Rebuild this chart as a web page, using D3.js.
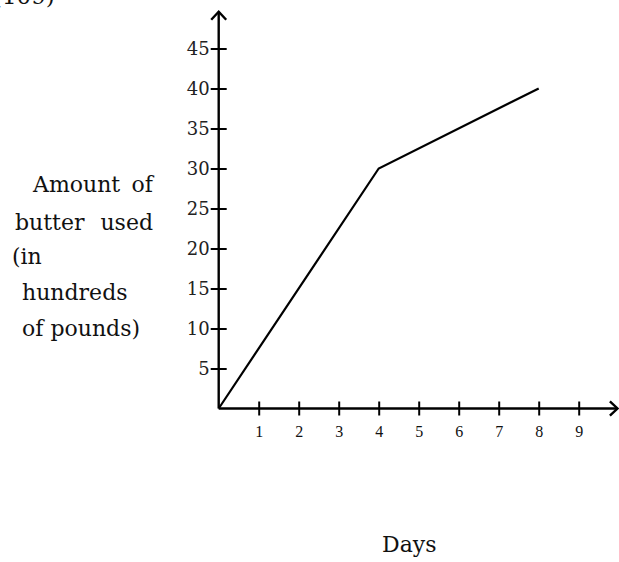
<!DOCTYPE html>
<html><head><meta charset="utf-8">
<script src="https://cdn.jsdelivr.net/npm/d3@7"></script>
<style>body{margin:0;background:#fff}svg{display:block}</style>
</head><body>
<svg id="c" width="619" height="562"></svg>
<script>
const days = [0, 4, 8];
const butter = [0, 30, 40];
const xTicks = [1,2,3,4,5,6,7,8,9];
const yTicks = [5,10,15,20,25,30,35,40,45];
const yLabelLines = ["Amount of", "butter used", "(in", "hundreds", "of pounds)"];
const xLabel = "Days";
const topFragment = "(109)";

const svg = d3.select("#c");
const x = d3.scaleLinear().domain([0,10]).range([218.7, 618.7]);
const y = d3.scaleLinear().domain([0,50]).range([408.5, 8.5]);
const serif = "'Liberation Serif',serif";
const wide = "'DejaVu Serif',serif";

// top clipped fragment (cut off at the page edge in the original)
svg.append("text").attr("x", -7).attr("y", 4).attr("font-family", wide)
  .attr("font-size", 23).attr("fill", "#111").text(topFragment);

// x axis
const gx = svg.append("g").attr("transform", `translate(0,${y(0)})`)
  .call(d3.axisBottom(x).tickValues(xTicks).tickSize(7).tickPadding(10).tickFormat(d3.format("d")));
gx.select(".domain").remove();
gx.selectAll(".tick line").attr("y1", -7).attr("stroke", "#000").attr("stroke-width", 2);
gx.selectAll(".tick text").attr("font-family", serif).attr("font-size", 16).attr("fill", "#111");

// y axis
const gy = svg.append("g").attr("transform", `translate(${x(0)},0)`)
  .call(d3.axisLeft(y).tickValues(yTicks).tickSize(8).tickPadding(1).tickFormat(d3.format("d")));
gy.select(".domain").remove();
gy.selectAll(".tick line").attr("x1", 8).attr("stroke", "#000").attr("stroke-width", 2);
gy.selectAll(".tick text").attr("font-family", wide).attr("font-size", 18).attr("fill", "#222");

// axis lines with open arrowheads
const ax = svg.append("g").attr("stroke", "#000").attr("stroke-width", 2.4).attr("fill", "none");
ax.append("line").attr("x1", x(0)).attr("x2", x(0)).attr("y1", y(0)).attr("y2", y(49.6));
ax.append("path").attr("d", `M${x(0)-7.5},${y(48.6)} L${x(0)},${y(49.6)} L${x(0)+7.5},${y(48.6)}`);
ax.append("line").attr("x1", x(0)).attr("x2", x(9.95)).attr("y1", y(0)).attr("y2", y(0));
ax.append("path").attr("d", `M${x(9.78)},${y(0.9)} L${x(9.97)},${y(0)} L${x(9.78)},${y(-0.9)}`);

// data line
const line = d3.line().x((d,i)=>x(days[i])).y(d=>y(d));
svg.append("path").datum(butter).attr("d", line).attr("fill","none")
  .attr("stroke","#000").attr("stroke-width", 2.2);

// y label (first two lines justified between left edge and right edge 153)
const ylX = [33, 15, 12, 22, 22];
const ylY = [192, 230, 264, 300, 336];
const justified = [true, true, false, false, false];
const rightEdge = 153;
yLabelLines.forEach((t,i)=>{
  const base = {"font-family": wide, "font-size": 22, "fill": "#111"};
  if (justified[i]) {
    const words = t.split(" ");
    const a = svg.append("text").attr("x", ylX[i]).attr("y", ylY[i]).text(words[0]);
    const b = svg.append("text").attr("x", rightEdge).attr("y", ylY[i]).attr("text-anchor","end").text(words.slice(1).join(" "));
    for (const k in base) { a.attr(k, base[k]); b.attr(k, base[k]); }
  } else {
    const a = svg.append("text").attr("x", ylX[i]).attr("y", ylY[i]).text(t);
    for (const k in base) a.attr(k, base[k]);
  }
});
svg.append("text").attr("x", 382).attr("y", 552).attr("font-family", wide)
  .attr("font-size", 22).attr("fill", "#111").text(xLabel);
</script>
</body></html>
